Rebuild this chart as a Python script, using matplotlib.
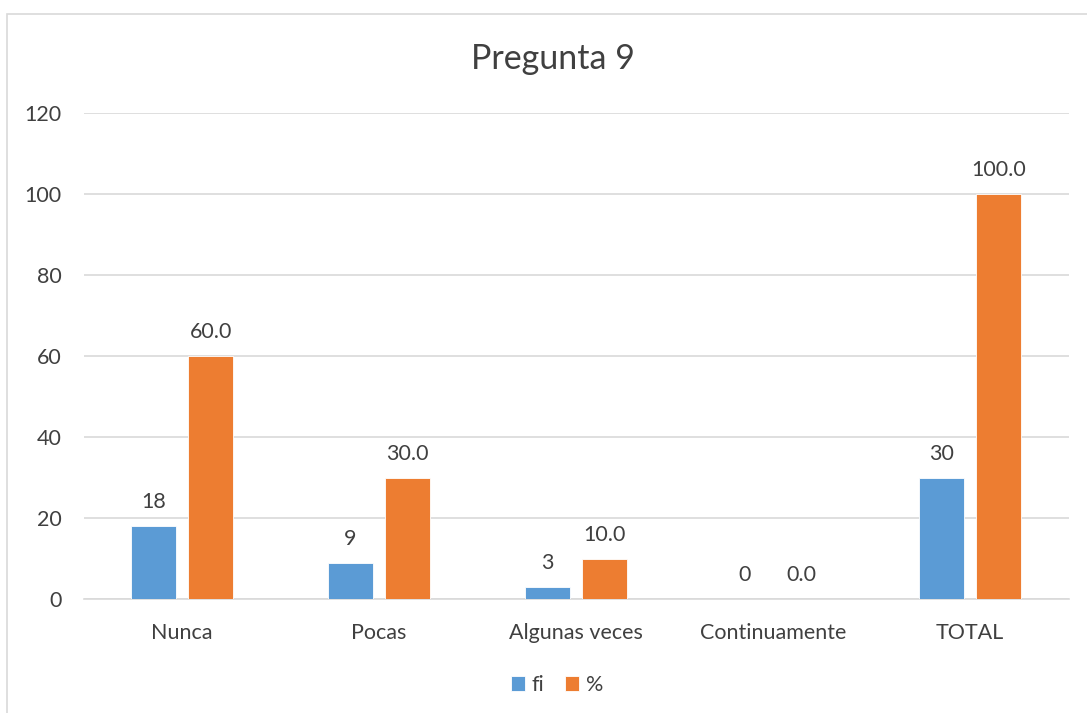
import matplotlib
matplotlib.use("Agg")
import matplotlib.pyplot as plt
from matplotlib.patches import Rectangle
import numpy as np

categories = ["Nunca", "Pocas", "Algunas veces", "Continuamente", "TOTAL"]
fi = [18, 9, 3, 0, 30]
pct = [60.0, 30.0, 10.0, 0.0, 100.0]
fi_labels = ["18", "9", "3", "0", "30"]
pct_labels = ["60.0", "30.0", "10.0", "0.0", "100.0"]
yticks = [0, 20, 40, 60, 80, 100, 120]

plt.rcParams['font.family'] = ['Lato', 'DejaVu Sans']
W, H = 1087, 713
fig = plt.figure(figsize=(W / 100, H / 100), dpi=100)
fig.patch.set_facecolor("white")

# chart border
fig.patches.append(Rectangle((6.5 / W, -0.05), 1.2, 1.05 - 13.5 / H, transform=fig.transFigure,
                             fill=False, edgecolor="#D9D9D9", linewidth=1.2))

ax = fig.add_axes([83.5 / W, 1 - 599 / H, 985 / W, 486 / H])
x = np.arange(len(categories))
w = 0.228
off = 0.145
blue = "#5B9BD5"
orange = "#ED7D31"
b1 = ax.bar(x - off, fi, w, color=blue, edgecolor="white", linewidth=0.6, label="fi", zorder=3)
b2 = ax.bar(x + off, pct, w, color=orange, edgecolor="white", linewidth=0.6, label="%", zorder=3)

txt = "#404040"
fs = 15.5
for xi, v, lab in zip(x, fi, fi_labels):
    ax.text(xi - off, v + 3.4, lab, ha="center", va="bottom", fontsize=fs, color=txt)
for xi, v, lab in zip(x, pct, pct_labels):
    ax.text(xi + off, v + 3.4, lab, ha="center", va="bottom", fontsize=fs, color=txt)

ax.set_xlim(-0.5, 4.5)
ax.set_ylim(0, 120)
ax.set_yticks(yticks)
ax.set_yticklabels([str(t) for t in yticks])
ax.set_xticks(x)
ax.set_xticklabels(categories)
ax.grid(axis="y", color="#D9D9D9", linewidth=1.2, zorder=0)
ax.set_axisbelow(True)
for s in ["top", "right", "left"]:
    ax.spines[s].set_visible(False)
ax.spines["bottom"].set_color("#D9D9D9")
ax.spines["bottom"].set_linewidth(1.2)
ax.tick_params(axis="both", length=0, labelsize=fs, colors=txt)
ax.tick_params(axis="y", pad=16)
ax.tick_params(axis="x", pad=17)

fig.text(553 / W, 1 - 59 / H, "Pregunta 9", ha="center", va="center", fontsize=24.5, color=txt)

fig.legend(handles=[b1, b2], labels=["fi", "%"], loc="center", bbox_to_anchor=(557 / W, 1 - 685 / H),
           ncol=2, frameon=False, fontsize=fs, handlelength=0.65, handleheight=0.65,
           handletextpad=0.3, columnspacing=1.0, labelcolor=txt)

fig.savefig("out.png", dpi=100, facecolor="white")
